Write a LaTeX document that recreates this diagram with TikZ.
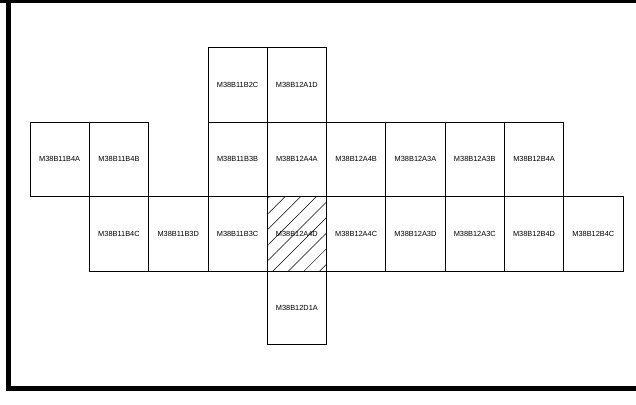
\documentclass[tikz,border=0pt]{standalone}
\usepackage{fontspec}
\setmainfont{Liberation Sans}
\usetikzlibrary{patterns.meta}
\begin{document}
\begin{tikzpicture}[x=1pt,y=-1pt,
  cell/.style={draw=black,line width=0.8pt,minimum width=59.3pt,minimum height=74.6pt,
    inner sep=0pt,outer sep=0pt,font=\fontsize{7.4}{8}\selectfont},
  frameline/.style={line width=5pt,line cap=rect}]
\useasboundingbox (0,0) rectangle (636,404);
\fill[white] (0,0) rectangle (636,404);
% frame
\draw[line width=3.5pt] (0,1.5) -- (636,1.5);
\draw[line width=5.5pt] (8.5,0) -- (8.5,388.3) -- (636,388.3);
% cells: column c left edge = 30 + 59.3 c ; row r top = 47.5 + 74.6 r
\def\cx#1{\fpeval{30+59.3*#1+29.65}}
\def\ry#1{\fpeval{47.5+74.6*#1+37.3}}
\node[cell] (b2c) at (\cx{3},\ry{0}) {M38B11B2C};
\node[cell] (a1d) at (\cx{4},\ry{0}) {M38B12A1D};
\node[cell] (b4a) at (\cx{0},\ry{1}) {M38B11B4A};
\node[cell] (b4b) at (\cx{1},\ry{1}) {M38B11B4B};
\node[cell] (b3b) at (\cx{3},\ry{1}) {M38B11B3B};
\node[cell] (a4a) at (\cx{4},\ry{1}) {M38B12A4A};
\node[cell] (a4b) at (\cx{5},\ry{1}) {M38B12A4B};
\node[cell] (a3a) at (\cx{6},\ry{1}) {M38B12A3A};
\node[cell] (a3b) at (\cx{7},\ry{1}) {M38B12A3B};
\node[cell] (bb4a) at (\cx{8},\ry{1}) {M38B12B4A};
\node[cell] (b4c) at (\cx{1},\ry{2}) {M38B11B4C};
\node[cell] (b3d) at (\cx{2},\ry{2}) {M38B11B3D};
\node[cell] (b3c) at (\cx{3},\ry{2}) {M38B11B3C};
\node[cell,pattern={Lines[angle=45,distance=11pt,line width=0.5pt]}] (a4d) at (\cx{4},\ry{2}) {};
\node[font=\fontsize{7.4}{8}\selectfont] (a4dl) at (a4d.center) {M38B12A4D};
\node[cell] (a4c) at (\cx{5},\ry{2}) {M38B12A4C};
\node[cell] (a3d) at (\cx{6},\ry{2}) {M38B12A3D};
\node[cell] (a3c) at (\cx{7},\ry{2}) {M38B12A3C};
\node[cell] (bb4d) at (\cx{8},\ry{2}) {M38B12B4D};
\node[cell] (bb4c) at (\cx{9},\ry{2}) {M38B12B4C};
\node[cell,minimum height=73pt] (d1a) at (\cx{4},\fpeval{47.5+74.6*3+36.5}) {M38B12D1A};
\end{tikzpicture}
\end{document}
